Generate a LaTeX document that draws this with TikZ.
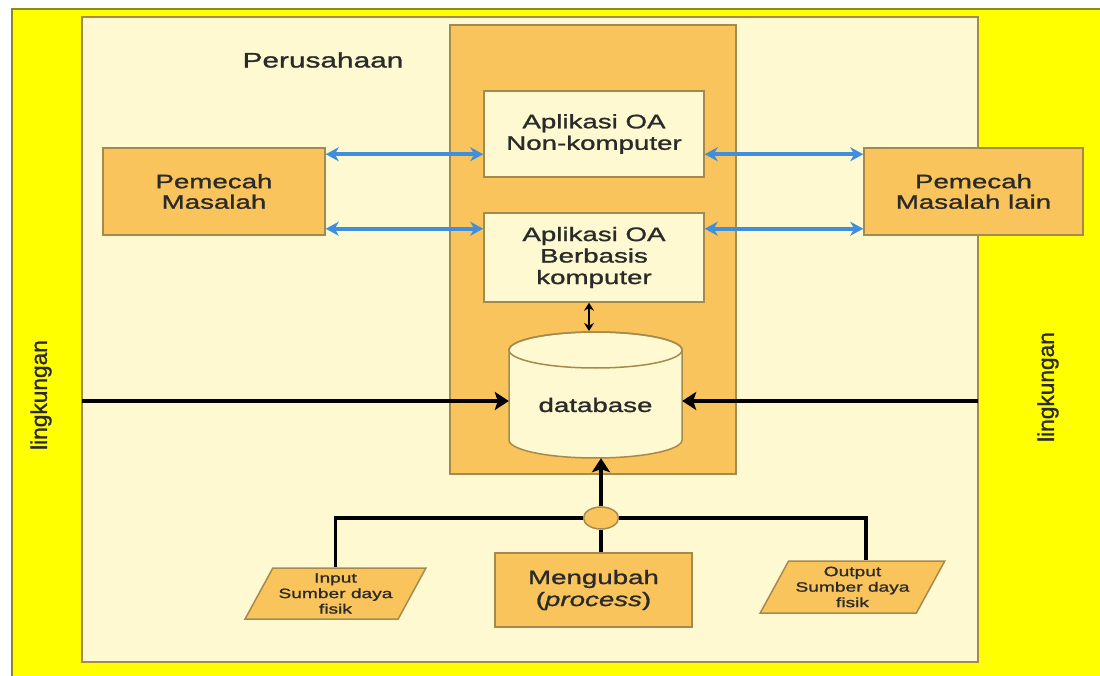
\documentclass[tikz,border=0pt]{standalone}
\usepackage{fontspec}
\setmainfont{Liberation Sans}
\newfontfamily\widesans[FakeStretch=1.42, FakeBold=1.2]{Liberation Sans}
\newfontfamily\tallsans[FakeBold=1.2]{Liberation Sans}
\usetikzlibrary{arrows.meta,shapes.geometric}
\definecolor{envyellow}{HTML}{FFFF00}
\definecolor{orgcream}{HTML}{FEF9D0}
\definecolor{boxorange}{HTML}{F9C45B}
\definecolor{boxline}{HTML}{A58A4E}
\definecolor{edgeolive}{HTML}{8C8A1E}
\definecolor{linkblue}{HTML}{3F8FDC}
\definecolor{ink}{HTML}{2A2A2A}
\tikzset{
  box/.style={draw=boxline, line width=1.5pt, fill=boxorange, inner sep=0pt,
    align=center, text=ink, font=\widesans\fontsize{19.5}{20.5}\selectfont},
  appbox/.style={box, fill=orgcream, font=\widesans\fontsize{19.5}{21.5}\selectfont},
  iobox/.style={box, trapezium, trapezium left angle=58, trapezium right angle=122,
    trapezium stretches=true, font=\widesans\fontsize{13.5}{15.5}\selectfont},
  link/.style={linkblue, line width=4pt,
    {Stealth[length=13pt,width=14pt,inset=4pt]}-{Stealth[length=13pt,width=14pt,inset=4pt]}},
  flow/.style={black, line width=4.5pt, -{Stealth[length=14pt,width=18pt,inset=3pt]}},
  wire/.style={black, line width=3.5pt},
  envtext/.style={rotate=90, text=ink, font=\tallsans\fontsize{22.7}{24}\selectfont},
}
\begin{document}
\begin{tikzpicture}[x=1pt, y=-1pt]
    \useasboundingbox (0,0) rectangle (1100,676);

    \fill[envyellow] (12,9) rectangle (1100,676);
    \draw[edgeolive, line width=2pt] (12,676) -- (12,9) -- (1100,9);
    \filldraw[fill=orgcream, draw=boxline, line width=2pt] (82,17) rectangle (978,662);
    \filldraw[fill=boxorange, draw=boxline, line width=1.5pt] (450,25) rectangle (736,474);

    % database cylinder
    \filldraw[fill=orgcream, draw=boxline, line width=1.5pt] (509,350) -- (509,440)
        arc[start angle=180, end angle=360, x radius=86.5pt, y radius=18pt] -- (682,350)
        arc[start angle=0, end angle=180, x radius=86.5pt, y radius=18pt] -- cycle;
    \draw[boxline, line width=1.5pt] (595.5,350) ellipse [x radius=86.5pt, y radius=18pt];

    \node[text=ink, font=\widesans\fontsize{21}{22}\selectfont] (org) at (323,60) {Perusahaan};
    \node[envtext] (envl) at (41,395) {lingkungan};
    \node[envtext] (envr) at (1048,387) {lingkungan};

    \node[box, minimum width=222pt, minimum height=87pt] (pm) at (214,191.5) {Pemecah\\Masalah};
    \node[box, minimum width=219pt, minimum height=87pt] (pml) at (973.5,191.5) {Pemecah\\Masalah lain};
    \node[appbox, minimum width=220pt, minimum height=86pt] (ao1) at (594,134) {Aplikasi OA\\Non-komputer};
    \node[appbox, minimum width=220pt, minimum height=89pt] (ao2) at (594,257.5) {Aplikasi OA\\Berbasis\\komputer};
    \node[text=ink, font=\widesans\fontsize{19.5}{20}\selectfont, minimum width=173pt,
        minimum height=106pt, inner sep=0pt] (db) at (595.5,405) {database};
    \node[box, ellipse, minimum width=35pt, minimum height=22pt] (jn) at (601,518) {};
    \node[box, minimum width=197pt, minimum height=74pt, font=\widesans\fontsize{19.5}{22}\selectfont]
        (mg) at (593.5,590) {Mengubah\\(\textit{process})};
    \node[iobox, minimum width=181pt, minimum height=51pt] (inp) at (335.5,593.5) {Input\\Sumber daya\\fisik};
    \node[iobox, minimum width=185pt, minimum height=52pt] (out) at (852.5,587) {Output\\Sumber daya\\fisik};

    \coordinate (up) at ([yshift=-7pt]pm.north east);
    \coordinate (down) at ([yshift=7pt]pm.south east);
    \foreach \y in {up, down} {
        \draw[link] (\y) -- (\y -| ao1.west);
        \draw[link] (\y -| ao1.east) -- (\y -| pml.west);
    }

    \coordinate (dbtop) at (589,331);
    \draw[black, line width=2.5pt, {Stealth[length=8pt,width=10pt]}-{Stealth[length=8pt,width=10pt]}]
        ([xshift=-5pt]ao2.south) -- (dbtop);

    \coordinate (envin) at (82,401);
    \coordinate (envout) at (978,401);
    \draw[flow] (envin) -- (envin -| db.west);
    \draw[flow] (envout) -- (envout -| db.east);
    \draw[flow] (jn.north) -- (jn.north |- db.south);

    \draw[wire] (inp.north) |- (jn.west);
    \draw[wire] (jn.east) -| ([xshift=13.5pt]out.north);
    \draw[wire] ([xshift=7.5pt]mg.north) -- (jn.south);
\end{tikzpicture}
\end{document}
